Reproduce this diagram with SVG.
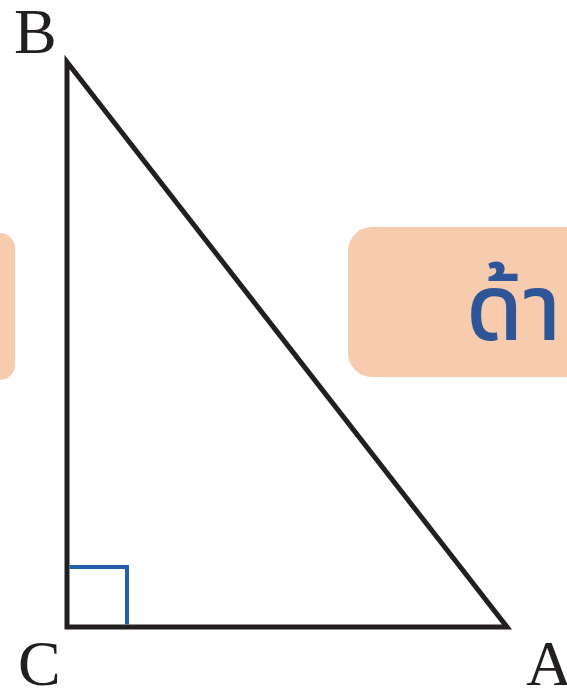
<svg xmlns="http://www.w3.org/2000/svg" width="567" height="690" viewBox="0 0 567 690">
<style>
.box{fill:#f7cbad}
.lbl{font-family:"Liberation Serif","DejaVu Serif",serif;font-size:64px;fill:#231f20}
.thai{font-family:"Noto Sans Thai","Noto Sans","Noto Sans CJK SC",sans-serif;font-size:92px;fill:#2e5597;font-weight:500}
</style>
<rect width="567" height="690" fill="#ffffff"/>
<g id="box-left"><rect class="box" x="-60" y="233" width="75" height="147" rx="15"/></g>
<g id="box-right"><rect class="box" x="348" y="227" width="260" height="150" rx="24"/><text class="thai" x="466" y="340">ด้าน</text></g>
<g id="triangle"><polygon points="67,62 67,627 507,627" fill="none" stroke="#231f20" stroke-width="5" stroke-linejoin="miter"/></g>
<g id="right-angle"><polyline points="69.5,567 127,567 127,624.5" fill="none" stroke="#1f5fad" stroke-width="4"/></g>
<g id="label-B"><text class="lbl" x="14" y="53">B</text></g>
<g id="label-C"><text class="lbl" x="18" y="685">C</text></g>
<g id="label-A"><text class="lbl" x="526" y="685">A</text></g>
</svg>
